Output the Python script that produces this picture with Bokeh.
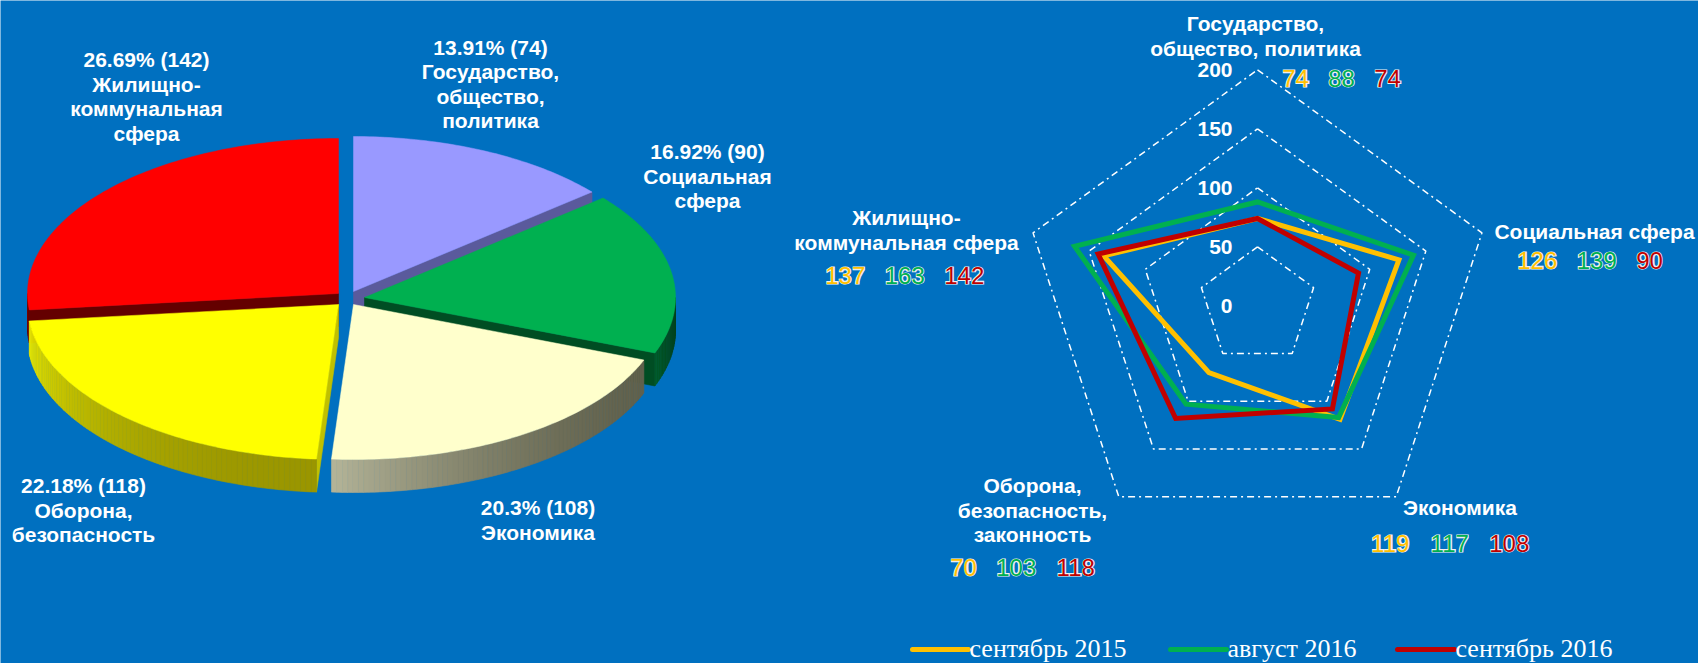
import numpy as np
from bokeh.plotting import figure
from bokeh.models import Range1d, ColumnDataSource
from bokeh.embed import file_html
from bokeh.resources import INLINE
from bokeh.core.properties import value

# ---------------- data ----------------
pie_categories = ["Государство,\nобщество,\nполитика", "Социальная\nсфера", "Экономика",
                  "Оборона,\nбезопасность", "Жилищно-\nкоммунальная\nсфера"]
pie_values = [74, 90, 108, 118, 142]

radar_categories = ["Государство,\nобщество, политика", "Социальная сфера", "Экономика",
                    "Оборона,\nбезопасность,\nзаконность", "Жилищно-\nкоммунальная сфера"]
series_names = ["сентябрь 2015", "август 2016", "сентябрь 2016"]
sep2015 = [74, 126, 119, 70, 137]
aug2016 = [88, 139, 117, 103, 163]
sep2016 = [74, 90, 108, 118, 142]
radar_ticks = [0, 50, 100, 150, 200]

# ---------------- style / layout ----------------
W, H = 1698, 663
BG = "#0070C0"
LABEL_FONT = "Liberation Sans"

p = figure(width=W, height=H, x_range=Range1d(0, W), y_range=Range1d(H, 0),
           output_backend="svg", toolbar_location=None, min_border=0,
           x_axis_type=None, y_axis_type=None,
           background_fill_color=BG, border_fill_color=BG, outline_line_color=None)


def add_text(xs, ys, texts, size, color, font=LABEL_FONT, style="bold",
             align="center", baseline="middle", outline=None):
    src = ColumnDataSource(dict(x=list(xs), y=list(ys), t=list(texts)))
    kw = {}
    if outline is not None:
        kw["text_outline_color"] = outline
    p.text("x", "y", text="t", source=src, text_font=value(font),
           text_font_size=f"{size}px", text_font_style=style, text_color=color,
           text_align=align, text_baseline=baseline, **kw)


def add_block(x, y0, label, size=21, spacing=24.5):
    lines = label.split("\n")
    add_text([x] * len(lines), [y0 + i * spacing for i in range(len(lines))], lines, size, "white")


# ---------------- 3D pie ----------------
CX, CY, RX, RY, DEPTH = 345, 297, 311, 155, 33
offsets = [(8, -6), (19, 0), (8, 7), (-7, 7), (-7, -4)]
top_colors = ["#9999FF", "#00B050", "#FFFFCC", "#FFFF00", "#FF0000"]
wall_colors = ["#5A5A9C", "#004D23", "#6B6B55", "#C0C000", "#640000"]
side_light = ["#7070B0", "#005A28", "#B4B498", "#E8E800", "#7A0000"]
side_dark = ["#5A5A9C", "#00421E", "#62624D", "#9A9600", "#600000"]
draw_order = [0, 4, 1, 3, 2]

total = float(sum(pie_values))
bounds = np.concatenate([[0.0], np.cumsum(pie_values) / total * 360.0])


def hex2rgb(h):
    h = h.lstrip("#")
    return np.array([int(h[i:i + 2], 16) for i in (0, 2, 4)], dtype=float)


def mix(c1, c2, t):
    c = hex2rgb(c1) * (1 - t) + hex2rgb(c2) * t
    return "#%02x%02x%02x" % tuple(int(round(v)) for v in c)


def ell(ax, ay, th):
    t = np.radians(th)
    return ax + RX * np.sin(t), ay - RY * np.cos(t)


wx, wy, wc = [], [], []
for i in draw_order:
    a0, a1 = bounds[i], bounds[i + 1]
    ax, ay = CX + offsets[i][0], CY + offsets[i][1]
    # radial walls
    for a, n in ((a0, a0 - 90), (a1, a1 + 90)):
        nn = n % 360
        if 90 < nn < 270:
            ex, ey = ell(ax, ay, a)
            wx.append([ax, ex, ex, ax])
            wy.append([ay, ey, ey + DEPTH, ay + DEPTH])
            wc.append(wall_colors[i])
    # outer curved wall (front half)
    lo, hi = max(a0, 90.0), min(a1, 270.0)
    if hi > lo:
        ths = np.linspace(lo, hi, int((hi - lo) / 1.0) + 2)
        for k in range(len(ths) - 1):
            x1, y1 = ell(ax, ay, ths[k])
            x2, y2 = ell(ax, ay, ths[k + 1])
            t = ((ths[k] + ths[k + 1]) / 2 - lo) / (hi - lo)
            col = mix(side_dark[i], side_light[i], t ** 2)
            wx.append([x1, x2, x2, x1])
            wy.append([y1, y2, y2 + DEPTH, y1 + DEPTH])
            wc.append(col)

p.patches("xs", "ys", source=ColumnDataSource(dict(xs=wx, ys=wy, c=wc)),
          fill_color="c", line_color="c", line_width=0.6)

fx, fy = [], []
for i in range(len(pie_values)):
    a0, a1 = bounds[i], bounds[i + 1]
    ax, ay = CX + offsets[i][0], CY + offsets[i][1]
    ths = np.linspace(a0, a1, int(a1 - a0) + 3)
    ex, ey = ell(ax, ay, ths)
    fx.append([ax] + list(ex))
    fy.append([ay] + list(ey))
p.patches("xs", "ys", source=ColumnDataSource(dict(xs=fx, ys=fy, c=top_colors)),
          fill_color="c", line_color="c", line_width=0.5)

pie_label_pos = [(490, 46.5), (707, 151), (537.5, 507), (83, 485), (146, 59)]
for i, (cat, v) in enumerate(zip(pie_categories, pie_values)):
    pct = f"{100 * v / total:.2f}".rstrip("0").rstrip(".")
    add_block(pie_label_pos[i][0], pie_label_pos[i][1], f"{pct}% ({v})\n{cat}")

# ---------------- radar ----------------
RCX, RCY, RS = 1257, 305.3, 1.18
n_cat = len(radar_categories)
angs = np.radians(np.arange(n_cat) * 360.0 / n_cat)


def rpts(vals):
    vals = np.asarray(vals, dtype=float)
    return list(RCX + vals * RS * np.sin(angs)), list(RCY - vals * RS * np.cos(angs))


for t in radar_ticks[1:]:
    gx, gy = rpts([t] * n_cat)
    p.line(gx + [gx[0]], gy + [gy[0]], line_color="white", line_width=1.5, line_dash="7 4 2 4")

series = [sep2015, aug2016, sep2016]
series_colors = ["#FFC000", "#00B050", "#C00000"]
for vals, col in zip(series, series_colors):
    sx, sy = rpts(vals)
    p.patch(sx, sy, fill_color=None, line_color=col, line_width=5, line_join="miter")

add_text([RCX - 25] * len(radar_ticks), [RCY - t * RS for t in radar_ticks],
         [str(t) for t in radar_ticks], 21, "white", align="right")

cat_label_pos = [(1255, 23), (1594, 231), (1459.5, 507), (1032, 485), (906, 217)]
for i, cat in enumerate(radar_categories):
    add_block(cat_label_pos[i][0], cat_label_pos[i][1], cat, spacing=24.5)

value_row_pos = [(1280, 78), (1515, 260), (1368, 543), (948, 567), (823, 275)]
DIG, GAP = 13.5, 16
vx = [[], [], []]
vy = [[], [], []]
vt = [[], [], []]
for i in range(n_cat):
    x, y = value_row_pos[i]
    for s, vals in enumerate(series):
        txt = str(vals[i])
        w = len(txt) * DIG + 3
        vx[s].append(x + w / 2)
        vy[s].append(y)
        vt[s].append(txt)
        x += w + GAP
# white halo (bold + outline) first, then solid coloured digits on top
for s in range(3):
    add_text(vx[s], vy[s], vt[s], 24, "#F2F2F2", style="bold", outline="#F2F2F2")
for s in range(3):
    add_text(vx[s], vy[s], vt[s], 24, series_colors[s], style="normal")

# legend
leg_lines = [(912, 968), (1170, 1226), (1397, 1454)]
LEG_Y = 649
for (x0, x1), col, name in zip(leg_lines, series_colors, series_names):
    p.line([x0, x1], [LEG_Y, LEG_Y], line_color=col, line_width=5, line_cap="round")
    add_text([x1 + 1], [648], [name], 26, "white", font="Liberation Serif", style="normal",
             align="left", baseline="middle")

open("out.html", "w").write(file_html(p, INLINE))
